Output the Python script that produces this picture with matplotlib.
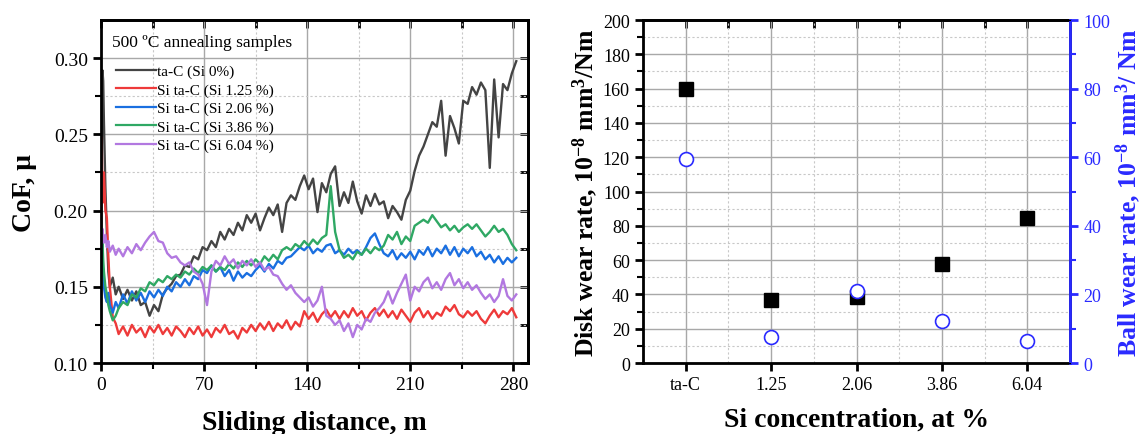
import numpy as np
import matplotlib
matplotlib.use("Agg")
import matplotlib.pyplot as plt
from matplotlib.ticker import MultipleLocator, FixedLocator

plt.rcParams["font.family"] = ["Liberation Serif", "DejaVu Serif"]
plt.rcParams["mathtext.fontset"] = "custom"
plt.rcParams["mathtext.rm"] = "Liberation Serif"
plt.rcParams["mathtext.bf"] = "Liberation Serif:bold"
plt.rcParams["mathtext.it"] = "Liberation Serif:italic"

# ---- left panel: CoF vs sliding distance ----
distance = [0, 0.5, 1, 1.5, 2, 3, 4, 5, 6, 8, 10,
            12, 15, 18, 21, 24, 27, 30, 33, 36, 39,
            42, 45, 48, 51, 54, 57, 60, 63, 66, 69,
            72, 75, 78, 81, 84, 87, 90, 93, 96, 99,
            102, 105, 108, 111, 114, 117, 120, 123, 126, 129,
            132, 135, 138, 141, 144, 147, 150, 153, 156, 159,
            162, 165, 168, 171, 174, 177, 180, 183, 186, 189,
            192, 195, 198, 201, 204, 207, 210, 213, 216, 219,
            222, 225, 228, 231, 234, 237, 240, 243, 246, 249,
            252, 255, 258, 261, 264, 267, 270, 273, 276, 279,
            282]

cof_si0 = [0.170, 0.262, 0.292, 0.285, 0.258, 0.215, 0.185, 0.160, 0.150, 0.156, 0.145,
           0.150, 0.142, 0.148, 0.141, 0.147, 0.138, 0.140, 0.131, 0.138, 0.134,
           0.145, 0.149, 0.152, 0.157, 0.158, 0.164, 0.163, 0.170, 0.168, 0.176,
           0.174, 0.180, 0.176, 0.186, 0.181, 0.188, 0.184, 0.192, 0.187, 0.197,
           0.192, 0.198, 0.187, 0.195, 0.202, 0.197, 0.204, 0.186, 0.205, 0.210,
           0.207, 0.216, 0.223, 0.214, 0.221, 0.199, 0.218, 0.212, 0.224, 0.229,
           0.203, 0.212, 0.205, 0.219, 0.206, 0.198, 0.210, 0.203, 0.211, 0.204,
           0.206, 0.195, 0.203, 0.199, 0.194, 0.207, 0.213, 0.226, 0.236, 0.242,
           0.250, 0.258, 0.255, 0.272, 0.236, 0.262, 0.254, 0.244, 0.272, 0.270,
           0.281, 0.276, 0.284, 0.279, 0.228, 0.286, 0.248, 0.283, 0.279, 0.290,
           0.298]

cof_si125 = [0.175, 0.248, 0.205, 0.218, 0.225, 0.200, 0.195, 0.170, 0.150, 0.130, 0.126,
             0.119, 0.124, 0.118, 0.125, 0.120, 0.123, 0.117, 0.124, 0.120, 0.125,
             0.119, 0.123, 0.118, 0.124, 0.121, 0.117, 0.123, 0.119, 0.124, 0.118,
             0.122, 0.117, 0.123, 0.120, 0.125, 0.119, 0.121, 0.116, 0.123, 0.120,
             0.125, 0.121, 0.126, 0.122, 0.127, 0.121, 0.126, 0.123, 0.128, 0.122,
             0.127, 0.124, 0.134, 0.129, 0.133, 0.127, 0.132, 0.135, 0.130, 0.134,
             0.129, 0.134, 0.130, 0.136, 0.131, 0.134, 0.128, 0.133, 0.136, 0.131,
             0.135, 0.130, 0.134, 0.129, 0.135, 0.131, 0.127, 0.133, 0.136, 0.130,
             0.134, 0.129, 0.133, 0.131, 0.137, 0.134, 0.138, 0.132, 0.130, 0.134,
             0.131, 0.134, 0.129, 0.126, 0.131, 0.135, 0.130, 0.134, 0.132, 0.136,
             0.130]

cof_si206 = [0.170, 0.178, 0.165, 0.160, 0.150, 0.143, 0.140, 0.146, 0.138, 0.133, 0.140,
             0.136, 0.145, 0.139, 0.147, 0.141, 0.146, 0.140, 0.147, 0.143, 0.148,
             0.144, 0.150, 0.147, 0.153, 0.150, 0.155, 0.151, 0.157, 0.155, 0.161,
             0.159, 0.164, 0.160, 0.163, 0.157, 0.161, 0.154, 0.160, 0.156, 0.159,
             0.157, 0.161, 0.164, 0.160, 0.165, 0.162, 0.167, 0.165, 0.169, 0.170,
             0.173, 0.176, 0.174, 0.177, 0.172, 0.175, 0.173, 0.177, 0.178, 0.172,
             0.174, 0.171, 0.175, 0.172, 0.174, 0.171, 0.176, 0.182, 0.185, 0.178,
             0.172, 0.170, 0.174, 0.168, 0.172, 0.169, 0.173, 0.168, 0.174, 0.171,
             0.176, 0.170, 0.175, 0.172, 0.177, 0.171, 0.176, 0.170, 0.175, 0.172,
             0.176, 0.170, 0.173, 0.168, 0.171, 0.166, 0.170, 0.165, 0.169, 0.166,
             0.169]

cof_si386 = [0.175, 0.170, 0.180, 0.168, 0.160, 0.150, 0.145, 0.138, 0.134, 0.128, 0.131,
             0.136, 0.140, 0.138, 0.145, 0.143, 0.149, 0.147, 0.153, 0.151, 0.155,
             0.153, 0.157, 0.155, 0.158, 0.156, 0.160, 0.158, 0.162, 0.159, 0.163,
             0.161, 0.164, 0.160, 0.163, 0.161, 0.165, 0.162, 0.166, 0.163, 0.167,
             0.164, 0.168, 0.165, 0.170, 0.167, 0.171, 0.168, 0.174, 0.176, 0.174,
             0.178, 0.176, 0.180, 0.177, 0.181, 0.178, 0.182, 0.184, 0.216, 0.186,
             0.174, 0.169, 0.171, 0.168, 0.173, 0.171, 0.175, 0.172, 0.176, 0.174,
             0.177, 0.184, 0.181, 0.186, 0.178, 0.183, 0.180, 0.190, 0.192, 0.194,
             0.192, 0.197, 0.193, 0.189, 0.191, 0.187, 0.190, 0.186, 0.189, 0.191,
             0.188, 0.191, 0.187, 0.183, 0.186, 0.190, 0.186, 0.188, 0.184, 0.178,
             0.174]

cof_si604 = [0.170, 0.180, 0.188, 0.183, 0.179, 0.184, 0.176, 0.180, 0.173, 0.177, 0.171,
             0.175, 0.170, 0.176, 0.172, 0.178, 0.174, 0.179, 0.183, 0.186, 0.180,
             0.179, 0.172, 0.169, 0.170, 0.166, 0.164, 0.166, 0.160, 0.158, 0.152,
             0.138, 0.160, 0.167, 0.164, 0.170, 0.165, 0.168, 0.162, 0.167, 0.164,
             0.168, 0.163, 0.166, 0.161, 0.163, 0.158, 0.157, 0.152, 0.148, 0.151,
             0.146, 0.143, 0.140, 0.143, 0.137, 0.141, 0.150, 0.131, 0.129, 0.125,
             0.128, 0.121, 0.126, 0.117, 0.125, 0.122, 0.129, 0.127, 0.133, 0.136,
             0.140, 0.147, 0.139, 0.146, 0.152, 0.158, 0.141, 0.150, 0.147, 0.153,
             0.156, 0.149, 0.153, 0.148, 0.155, 0.159, 0.151, 0.155, 0.149, 0.153,
             0.148, 0.151, 0.146, 0.142, 0.145, 0.140, 0.144, 0.155, 0.144, 0.141,
             0.145]

cof_labels = ["ta-C (Si 0%)", "Si ta-C (Si 1.25 %)", "Si ta-C (Si 2.06 %)",
              "Si ta-C (Si 3.86 %)", "Si ta-C (Si 6.04 %)"]
cof_colors = ["#444444", "#ee3a3a", "#1a6fe0", "#2fa864", "#b278e0"]

# ---- right panel: wear rates ----
si_labels = ["ta-C", "1.25", "2.06", "3.86", "6.04"]
disk_wear = [160, 36.5, 38.5, 57.5, 84.5]
ball_wear = [59.5, 7.5, 21.0, 12.2, 6.3]

fig = plt.figure(figsize=(11.41, 4.35), dpi=100)
ax1 = fig.add_axes([0.0885, 0.1632, 0.3743, 0.7885])
ax2 = fig.add_axes([0.5636, 0.1632, 0.3742, 0.7885])

spine_w = 2.0
grid_major = dict(color="#a8a8a8", linewidth=1.0, linestyle="-")
grid_minor = dict(color="#c8c8c8", linewidth=0.8, linestyle=(0, (2, 2)))

# left panel
for series, lab, col in zip([cof_si0, cof_si125, cof_si206, cof_si386, cof_si604],
                            cof_labels, cof_colors):
    ax1.plot(distance, series, color=col, linewidth=1.7, label=lab)

ax1.set_xlim(0, 290)
ax1.set_ylim(0.10, 0.325)
ax1.xaxis.set_major_locator(FixedLocator([0, 70, 140, 210, 280]))
ax1.xaxis.set_minor_locator(FixedLocator([35, 105, 175, 245]))
ax1.yaxis.set_major_locator(FixedLocator([0.10, 0.15, 0.20, 0.25, 0.30]))
ax1.yaxis.set_minor_locator(FixedLocator([0.125, 0.175, 0.225, 0.275]))
ax1.grid(True, which="major", **grid_major)
ax1.grid(True, which="minor", **grid_minor)
ax1.set_axisbelow(True)
ax1.tick_params(which="major", direction="out", length=6, width=2, labelsize=14)
ax1.tick_params(which="minor", direction="out", length=4, width=1.5)
top1 = ax1.secondary_xaxis("top")
top1.set_xticks([0, 70, 140, 210, 280, 35, 105, 175, 245])
top1.tick_params(direction="in", length=6, width=2, labeltop=False)
right1 = ax1.secondary_yaxis("right")
right1.set_yticks([0.10, 0.125, 0.15, 0.175, 0.20, 0.225, 0.25, 0.275, 0.30])
right1.tick_params(direction="in", length=6, width=2, labelright=False)
for sp in list(ax1.spines.values()) + [top1.spines["top"], right1.spines["right"]]:
    sp.set_linewidth(spine_w)
ax1.set_yticklabels(["0.10", "0.15", "0.20", "0.25", "0.30"])
ax1.set_xlabel("Sliding distance, m", fontsize=20, fontweight="bold", labelpad=12)
ax1.set_ylabel("CoF, \u03bc", fontsize=20, fontweight="bold", labelpad=12)

ax1.text(0.026, 0.936, "500 \u00baC annealing samples", transform=ax1.transAxes,
         fontsize=12.5, ha="left", va="center")
leg = ax1.legend(loc="upper left", frameon=False, fontsize=11,
                 handlelength=2.6, handletextpad=0.1, labelspacing=0.3,
                 borderpad=0.0, borderaxespad=0.0, bbox_to_anchor=(0.035, 0.87))
for line in leg.get_lines():
    line.set_linewidth(1.6)

# right panel
x_pos = np.arange(len(si_labels))
ax2.plot(x_pos, disk_wear, linestyle="none", marker="s", markersize=9.5,
         color="black", zorder=4)
ax2.set_xlim(-0.5, 4.5)
ax2.set_ylim(0, 200)
ax2.set_xticks(x_pos)
ax2.set_xticklabels(si_labels)
ax2.xaxis.set_minor_locator(FixedLocator([0.5, 1.5, 2.5, 3.5]))
ax2.yaxis.set_major_locator(MultipleLocator(20))
ax2.yaxis.set_minor_locator(MultipleLocator(10))
ax2.grid(True, which="major", **grid_major)
ax2.grid(True, which="minor", **grid_minor)
ax2.set_axisbelow(True)
ax2.tick_params(which="major", direction="out", length=6, width=2, labelsize=13)
ax2.tick_params(which="minor", direction="out", length=4, width=1.5)
ax2.tick_params(axis="x", which="minor", length=0)
top2 = ax2.secondary_xaxis("top")
top2.set_xticks([0, 1, 2, 3, 4, 0.5, 1.5, 2.5, 3.5])
top2.tick_params(direction="in", length=6, width=2, labeltop=False)
top2.spines["top"].set_linewidth(spine_w)
for sp in ax2.spines.values():
    sp.set_linewidth(spine_w)
ax2.set_xlabel("Si concentration, at %", fontsize=20, fontweight="bold", labelpad=10)
ax2.set_ylabel(r"Disk wear rate, 10$^{\mathbf{-8}}$ mm$^{\mathbf{3}}$/Nm",
               fontsize=18.5, fontweight="bold", labelpad=2)

ax3 = ax2.twinx()
blue = "#2a2aff"
ax3.plot(x_pos, ball_wear, linestyle="none", marker="o", markersize=10,
         markerfacecolor="white", markeredgecolor=blue, markeredgewidth=1.2, zorder=5)
ax3.set_ylim(0, 100)
ax3.yaxis.set_major_locator(MultipleLocator(20))
ax3.yaxis.set_minor_locator(MultipleLocator(10))
ax3.tick_params(which="major", direction="out", length=6, width=2, labelsize=13,
                colors=blue)
ax3.tick_params(which="minor", direction="out", length=4, width=1.5, colors=blue)
ax3.spines["right"].set_color(blue)
ax3.spines["right"].set_linewidth(spine_w)
ax3.set_ylabel(r"Ball wear rate, 10$^{\mathbf{-8}}$ mm$^{\mathbf{3}}$/ Nm",
               fontsize=18.5, fontweight="bold", color=blue, labelpad=2)

fig.savefig("out.png", dpi=100)
